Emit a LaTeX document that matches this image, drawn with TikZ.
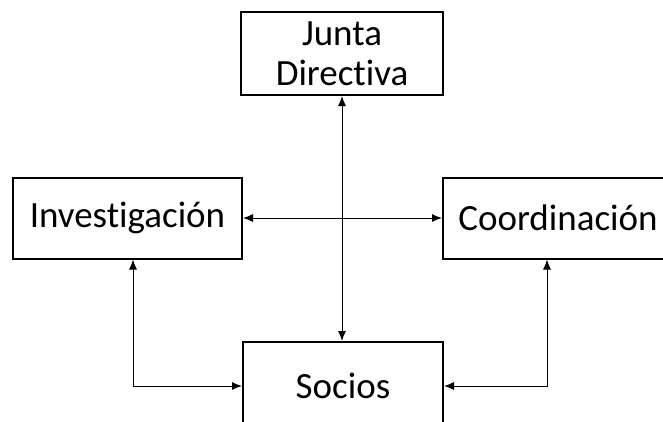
\documentclass[tikz,border=0pt]{standalone}
\usepackage{fontspec}
\setmainfont{Carlito}[Ligatures=NoCommon]
\usetikzlibrary{arrows.meta}
\tikzset{
  caixa/.style={draw, line width=2pt, inner sep=0pt, align=center, font=\fontsize{37}{40}\selectfont},
  seta/.style={{Latex[length=10pt,width=8pt]}-{Latex[length=10pt,width=8pt]}, line width=1pt}
}
\begin{document}
\begin{tikzpicture}[x=1pt, y=-1pt]
        % Define a área da figura
        \useasboundingbox (0,0) rectangle (663,421);
        \clip (0,0) rectangle (663,421);
        % Define os nós
        \node[caixa, minimum width=202pt, minimum height=83pt] (junta) at (342,53.5) {Junta\\Directiva};
        \node[caixa, minimum width=229pt, minimum height=81pt] (inv) at (127.5,218) {Investigación};
        \node[caixa, minimum width=230pt, minimum height=81pt] (coord) at (558,218) {Coordinación};
        \node[caixa, minimum width=200pt, minimum height=88pt] (socios) at (343,386) {Socios};
        % Conecta os nós
        \draw[seta] (junta.south) -- (junta.south |- socios.north);
        \draw[seta] (inv.east) -- (coord.west);
        \draw[seta] ([xshift=5.5pt]inv.south) |- (socios.west);
        \draw[seta] ([xshift=-11pt]coord.south) |- (socios.east);
    \end{tikzpicture}
\end{document}
